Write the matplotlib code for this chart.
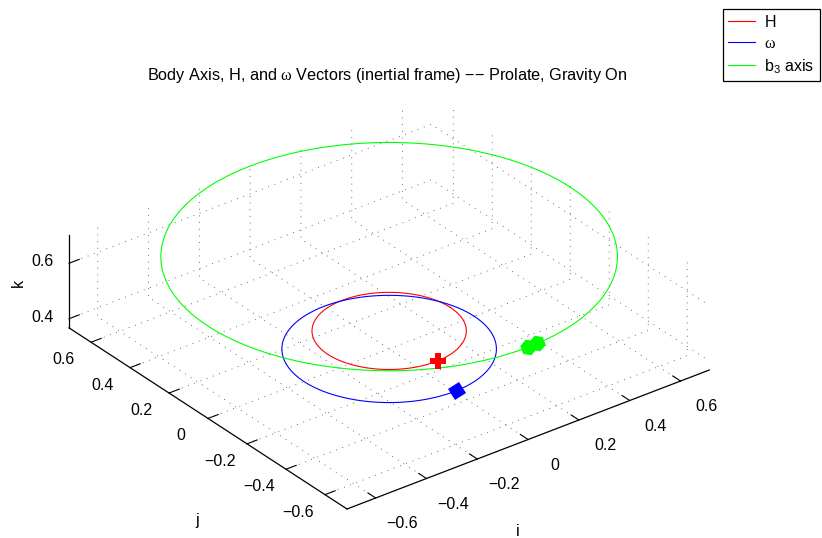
import numpy as np
import matplotlib
matplotlib.use("Agg")
import matplotlib.pyplot as plt
from matplotlib.lines import Line2D
from matplotlib.markers import MarkerStyle
from matplotlib.transforms import Affine2D
from mpl_toolkits.mplot3d import proj3d

plt.rcParams['font.family'] = ['Liberation Sans', 'DejaVu Sans']
plt.rcParams['mathtext.fontset'] = 'custom'
plt.rcParams['mathtext.rm'] = 'Liberation Sans'
plt.rcParams['mathtext.it'] = 'Liberation Sans:italic'
plt.rcParams['mathtext.tt'] = 'Liberation Serif'

# ---------------- data ----------------
curve_labels = ['H', r'$\mathtt{\omega}$', r'b$_\mathregular{3}$ axis']
curve_radius = [0.241, 0.335, 0.713]        # horizontal radius of each traced circle
curve_height = [0.432, 0.367, 0.700]        # k-value of each traced circle
marker_angles_deg = [[-88.0], [-88.5], [-90.0, -87.0]]  # start-point markers (angle about k)
tick_values = [-0.6, -0.4, -0.2, 0, 0.2, 0.4, 0.6]
ztick_values = [0.4, 0.6]
xlim = (-0.713, 0.713)
ylim = (-0.713, 0.713)
zlim = (0.367, 0.703)
title = r'Body Axis, H, and $\mathtt{\omega}$ Vectors (inertial frame) ' \
        '\u2212\u2212 Prolate, Gravity On'

# ---------------- style ----------------
colors = ['#ff0000', '#0000ff', '#00ff00']
W, H = 822, 538
fs = 11.5
fig = plt.figure(figsize=(W / 100, H / 100), dpi=100)

side = 620.0
cx, cy = 389.5, H - 302.6
ax = fig.add_axes([(cx - side / 2) / W, (cy - side / 2) / H, side / W, side / H],
                  projection='3d')
ax.set_proj_type('ortho')
ax.view_init(elev=30, azim=-127.5)
ax.set_xlim(*xlim)
ax.set_ylim(*ylim)
ax.set_zlim(*zlim)
aspect = (xlim[1] - xlim[0], ylim[1] - ylim[0], zlim[1] - zlim[0])
ax.set_box_aspect(aspect, zoom=1.0)

theta = np.linspace(0, 2 * np.pi, 721)
for r, h, c, lab in zip(curve_radius, curve_height, colors, curve_labels):
    ax.plot(r * np.cos(theta), r * np.sin(theta), np.full_like(theta, h),
            color=c, lw=0.8, label=lab)

# start markers
mk_styles = [
    dict(marker='P', ms=11.5, mew=0),
    dict(marker=MarkerStyle('s', transform=Affine2D().rotate_deg(30)), ms=9, mew=0),
    dict(marker=MarkerStyle('h', transform=Affine2D().rotate_deg(20)), ms=12, mew=0),
]
for r, h, c, angs, st in zip(curve_radius, curve_height, colors, marker_angles_deg, mk_styles):
    a = np.deg2rad(np.array(angs))
    ax.plot(r * np.cos(a), r * np.sin(a), np.full_like(a, h), ls='none', color=c, **st)

ax.set_xticks(tick_values)
ax.set_yticks(tick_values)
ax.set_zticks(ztick_values)
fmt = lambda v: ('0' if v == 0 else f'{v:g}').replace('-', '\u2212')
ax.set_xticklabels([fmt(v) for v in tick_values])
ax.set_yticklabels([fmt(v) for v in tick_values])
ax.set_zticklabels([fmt(v) for v in ztick_values])
ax.tick_params(labelsize=fs)
ax.tick_params(axis='x', pad=14)
ax.tick_params(axis='y', pad=9.5)
ax.tick_params(axis='z', pad=1.5)

for axis in (ax.xaxis, ax.yaxis, ax.zaxis):
    axis.set_pane_color((1, 1, 1, 0))
    axis.pane.set_edgecolor((1, 1, 1, 0))
    axis.line.set_color('k')
    axis.line.set_linewidth(0.9)
    axis._axinfo['grid']['color'] = (0.25, 0.25, 0.25, 1)
    axis._axinfo['grid']['linewidth'] = 0.6
    axis._axinfo['grid']['linestyle'] = (0, (1, 7))
    axis._axinfo['tick']['inward_factor'] = 0.0
    axis._axinfo['tick']['outward_factor'] = 0.35
    axis._axinfo['tick']['linewidth'] = {True: 0.8, False: 0.5}
    axis._axinfo['tick']['color'] = 'k'

# fit the projected box to the reference placement
fig.canvas.draw()
def to_px(x, y, z):
    X, Y, _ = proj3d.proj_transform(x, y, z, ax.get_proj())
    return ax.transData.transform((X, Y))
p0 = to_px(xlim[0], ylim[0], zlim[0])
p1 = to_px(xlim[1], ylim[0], zlim[0])
cur = np.hypot(*(p1 - p0))
target = np.hypot(363, 137)
ax.set_box_aspect(aspect, zoom=target / cur)
fig.canvas.draw()
p0 = to_px(xlim[0], ylim[0], zlim[0])
dx, dy = 347 - p0[0], (H - 509) - p0[1]
pos = ax.get_position(original=True)
ax.set_position([pos.x0 + dx / W, pos.y0 + dy / H, pos.width, pos.height])

for axis in (ax.xaxis, ax.yaxis, ax.zaxis):
    for t in axis.get_major_ticks():
        t.label1.set_verticalalignment('center')
        t.label1.set_horizontalalignment('center')

# axis labels
fig.text(518 / W, 1 - 532 / H, 'i', ha='center', va='center', fontsize=fs)
fig.text(197.5 / W, 1 - 520 / H, 'j', ha='center', va='center', fontsize=fs)
fig.text(18 / W, 1 - 283 / H, 'k', ha='center', va='center', fontsize=fs, rotation=90)

fig.text(387.5 / W, 1 - 75.7 / H, title, ha='center', va='center', fontsize=11.7)

handles = [Line2D([], [], color=c, lw=0.8) for c in colors]
leg = fig.legend(handles, curve_labels, loc='upper right',
                 bbox_to_anchor=(820 / W, 1 - 9 / H), frameon=True, fancybox=False,
                 edgecolor='k', framealpha=1, fontsize=fs, handlelength=1.7,
                 borderaxespad=0, labelspacing=0.39, handletextpad=0.56,
                 borderpad=0.35)
leg.get_frame().set_linewidth(0.9)

fig.savefig('out.png', dpi=100)
